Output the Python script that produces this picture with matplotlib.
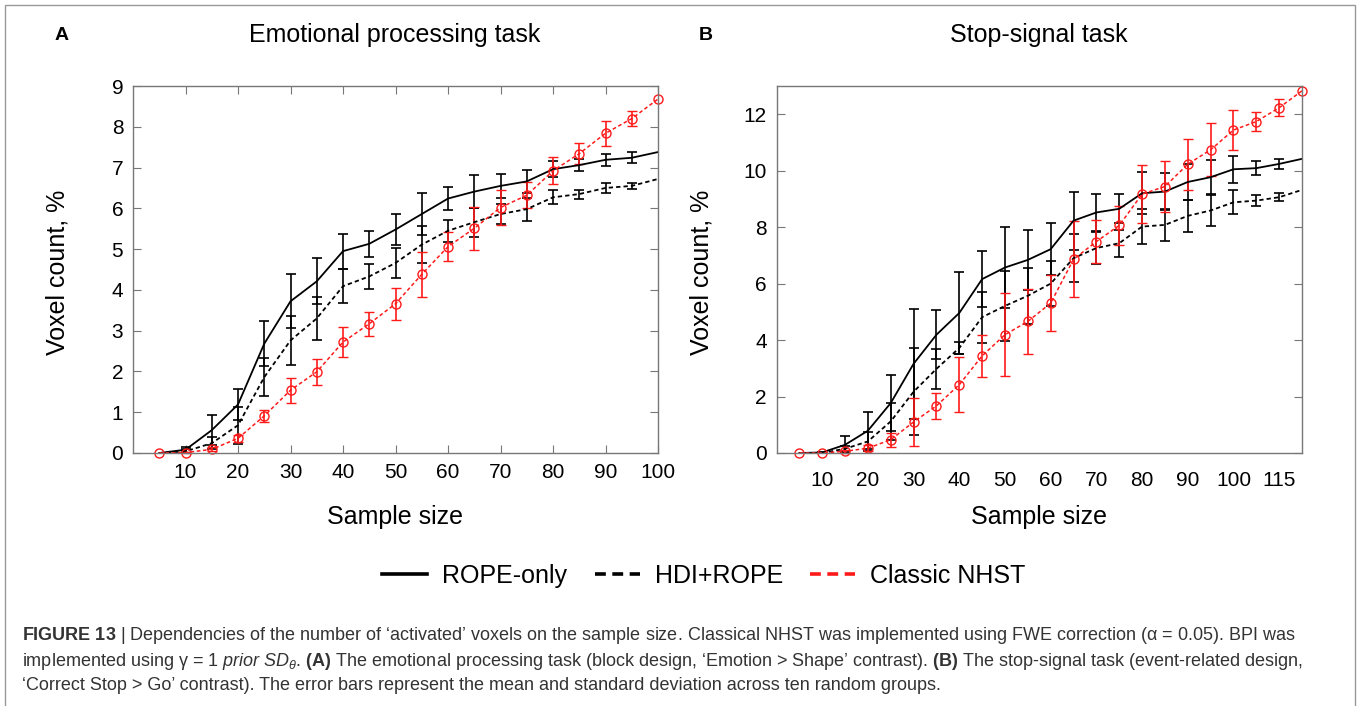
import numpy as np
import matplotlib
matplotlib.use('Agg')
import matplotlib.pyplot as plt
from matplotlib.lines import Line2D
from matplotlib.patches import Rectangle

plt.rcParams['font.family'] = ['Liberation Sans', 'DejaVu Sans']
plt.rcParams['mathtext.fontset'] = 'custom'
plt.rcParams['mathtext.rm'] = 'Liberation Sans'
plt.rcParams['mathtext.it'] = 'Liberation Sans:italic'
plt.rcParams['mathtext.bf'] = 'Liberation Sans:bold'

nan = np.nan

# ---- data ----
# A: emotional processing task
n_a = [5, 10, 15, 20, 25, 30, 35, 40, 45, 50, 55, 60, 65, 70, 75, 80, 85, 90, 95, 100]
rope_a = [0, 0.08, 0.56, 1.19, 2.68, 3.72, 4.21, 4.95, 5.13, 5.48, 5.86, 6.24, 6.41, 6.55, 6.66, 6.96, 7.06, 7.19, 7.24, 7.38]
rope_a_sd = [nan, 0.07, 0.37, 0.39, 0.55, 0.66, 0.56, 0.43, 0.32, 0.37, 0.51, 0.29, 0.4, 0.3, 0.29, 0.19, 0.15, 0.15, 0.13, nan]
hdi_a = [0, 0.04, 0.24, 0.68, 1.86, 2.76, 3.3, 4.09, 4.33, 4.66, 5.11, 5.45, 5.66, 5.86, 5.98, 6.27, 6.35, 6.5, 6.55, 6.72]
hdi_a_sd = [nan, 0.05, 0.15, 0.45, 0.46, 0.61, 0.52, 0.42, 0.3, 0.36, 0.46, 0.27, 0.36, 0.25, 0.28, 0.17, 0.11, 0.13, 0.08, nan]
nhst_a = [0, 0.01, 0.09, 0.36, 0.91, 1.54, 1.99, 2.72, 3.17, 3.66, 4.38, 5.06, 5.51, 6.02, 6.32, 6.92, 7.34, 7.84, 8.2, 8.68]
nhst_a_sd = [nan, 0.02, 0.05, 0.08, 0.14, 0.31, 0.32, 0.36, 0.29, 0.39, 0.56, 0.35, 0.52, 0.42, 0.32, 0.33, 0.25, 0.31, 0.19, nan]

# B: stop-signal task
n_b = [5, 10, 15, 20, 25, 30, 35, 40, 45, 50, 55, 60, 65, 70, 75, 80, 85, 90, 95, 100, 105, 110, 115]
rope_b = [0, 0.02, 0.29, 0.79, 1.77, 3.16, 4.19, 4.96, 6.16, 6.57, 6.84, 7.22, 8.23, 8.52, 8.65, 9.2, 9.26, 9.6, 9.77, 10.05, 10.09, 10.24, 10.42]
rope_b_sd = [nan, 0.03, 0.3, 0.66, 1.0, 1.95, 0.86, 1.45, 0.99, 1.43, 1.06, 0.92, 1.03, 0.65, 0.51, 0.75, 0.65, 0.63, 0.6, 0.48, 0.25, 0.17, nan]
hdi_b = [0, 0.0, 0.15, 0.41, 1.12, 2.17, 2.98, 3.72, 4.81, 5.21, 5.57, 6.0, 6.9, 7.26, 7.43, 8.02, 8.08, 8.4, 8.59, 8.88, 8.94, 9.06, 9.32]
hdi_b_sd = [nan, nan, 0.1, 0.35, 0.65, 1.55, 0.71, 0.2, 0.9, 1.25, 1.0, 0.81, 0.85, 0.58, 0.47, 0.63, 0.58, 0.56, 0.56, 0.43, 0.2, 0.15, nan]
nhst_b = [0, 0.0, 0.06, 0.17, 0.47, 1.1, 1.67, 2.42, 3.44, 4.19, 4.66, 5.31, 6.86, 7.49, 8.06, 9.17, 9.44, 10.23, 10.74, 11.44, 11.74, 12.23, 12.83]
nhst_b_sd = [nan, nan, 0.05, 0.1, 0.24, 0.86, 0.45, 0.97, 0.74, 1.47, 1.15, 0.98, 1.35, 0.75, 0.7, 1.04, 0.9, 0.9, 0.94, 0.7, 0.35, 0.3, nan]

xticks_a = [10, 20, 30, 40, 50, 60, 70, 80, 90, 100]
yticks_a = [0, 1, 2, 3, 4, 5, 6, 7, 8, 9]
xticks_b = [10, 20, 30, 40, 50, 60, 70, 80, 90, 100, 110]
xticklabels_b = ['10', '20', '30', '40', '50', '60', '70', '80', '90', '100', '115']
xtickmarks_b = [20, 40, 60, 80, 100]
yticks_b = [0, 2, 4, 6, 8, 10, 12]

legend_labels = ['ROPE-only', 'HDI+ROPE', 'Classic NHST']

W, H = 1357, 706
fig = plt.figure(figsize=(W / 100, H / 100), dpi=100)


def fx(x):
    return x / W


def fy(y):
    return 1 - y / H


RED = '#ff1a1a'
SPINE = '#777777'
DASH = (0, (2.4, 1.7))


def panel(ax, n, rope, rope_sd, hdi, hdi_sd, nhst, nhst_sd):
    kw = dict(capsize=3.8, elinewidth=1.2, capthick=1.2, clip_on=False)
    ax.errorbar(n, rope, yerr=rope_sd, color='black', lw=1.3, **kw)
    ax.errorbar(n, hdi, yerr=hdi_sd, color='black', lw=1.3, ls=DASH, **kw)
    ax.errorbar(n, nhst, yerr=nhst_sd, color=RED, lw=1.1, ls=DASH,
                marker='o', ms=6.5, mfc='none', mec=RED, mew=1.0, **kw)
    for s in ax.spines.values():
        s.set_color(SPINE)
        s.set_linewidth(1.0)
    ax.tick_params(which='both', direction='in', top=True, right=True,
                   color=SPINE, labelsize=15, pad=7)


# panel A
ax_a = fig.add_axes([fx(133), fy(453), fx(525), 367 / H])
panel(ax_a, n_a, rope_a, rope_a_sd, hdi_a, hdi_a_sd, nhst_a, nhst_a_sd)
ax_a.set_xlim(0, 100)
ax_a.set_ylim(0, 9)
ax_a.set_xticks(xticks_a)
ax_a.set_yticks(yticks_a)
ax_a.tick_params(length=6)

# panel B
ax_b = fig.add_axes([fx(776.5), fy(453), fx(525.5), 367 / H])
panel(ax_b, n_b, rope_b, rope_b_sd, hdi_b, hdi_b_sd, nhst_b, nhst_b_sd)
ax_b.set_xlim(0, 115)
ax_b.set_ylim(0, 13)
ax_b.set_xticks(xticks_b)
ax_b.set_xticklabels(xticklabels_b)
ax_b.set_xticks(xtickmarks_b, minor=True)
ax_b.set_yticks(yticks_b)
ax_b.tick_params(axis='x', which='major', length=0, pad=13)
ax_b.tick_params(axis='x', which='minor', length=6)
ax_b.tick_params(axis='y', length=6)

# titles, panel letters, axis labels
for cx, letter_x, letter, title in [(395, 62, 'A', 'Emotional processing task'),
                                    (1039, 706, 'B', 'Stop-signal task')]:
    fig.text(fx(letter_x), fy(35), letter, ha='center', va='center',
             fontsize=14, fontweight='bold')
    fig.text(fx(cx), fy(35), title, ha='center', va='center', fontsize=18)
    fig.text(fx(cx), fy(517), 'Sample size', ha='center', va='center', fontsize=18)

for lx in [58, 702]:
    fig.text(fx(lx), fy(272), 'Voxel count, %', ha='center', va='center',
             rotation=90, fontsize=18)

# legend
handles = [Line2D([], [], color='black', lw=2.6),
           Line2D([], [], color='black', lw=2.6, ls=(0, (3.0, 1.8))),
           Line2D([], [], color=RED, lw=2.6, ls=(0, (3.0, 1.8)))]
fig.legend(handles, legend_labels, loc='center', bbox_to_anchor=(fx(704), fy(576)),
           ncol=3, frameon=False, fontsize=18, handlelength=1.8,
           handletextpad=0.6, columnspacing=1.1)

# caption
cap_lines = [
    r"$\mathbf{FIGURE\ 13}$ | Dependencies of the number of ‘activated’ voxels on the sample size. "
    r"Classical NHST was implemented using FWE correction (α = 0.05). BPI was",
    r"implemented using γ = 1 $\mathit{prior\ SD}_{\theta}$. $\mathbf{(A)}$ The emotional processing task "
    r"(block design, ‘Emotion > Shape’ contrast). $\mathbf{(B)}$ The stop-signal task (event-related design,",
    "‘Correct Stop > Go’ contrast). The error bars represent the mean and standard deviation "
    "across ten random groups.",
]
for i, line in enumerate(cap_lines):
    fig.text(fx(22), fy(636 + 25 * i), line, ha='left', va='center',
             fontsize=13, color='#333333')

# outer frame
fig.patches.append(Rectangle((fx(5), -0.02), fx(1350), fy(5) + 0.02,
                             transform=fig.transFigure, fill=False,
                             edgecolor='#999999', lw=1.0))

fig.savefig('out.png', dpi=100)
